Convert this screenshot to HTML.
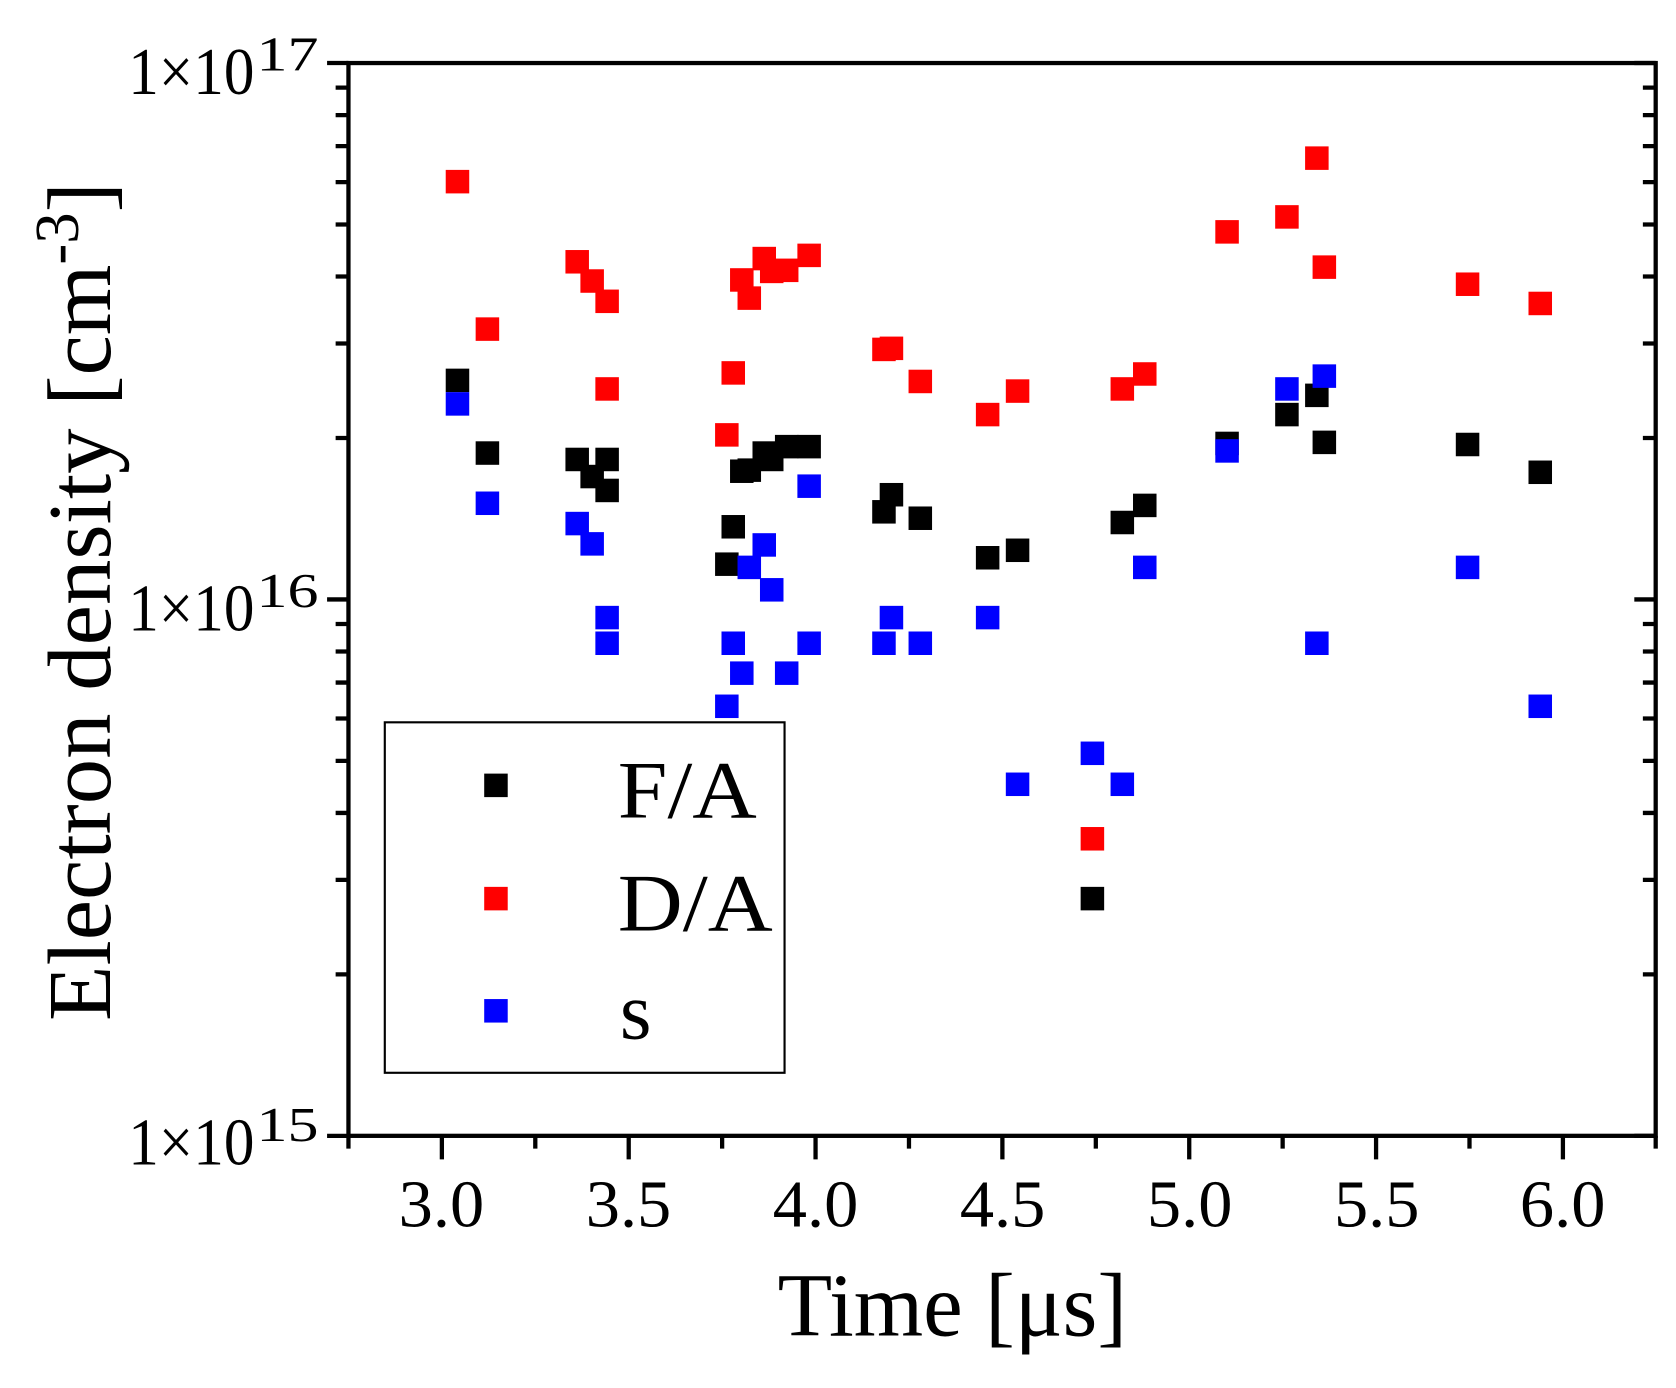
<!DOCTYPE html>
<html><head><meta charset="utf-8"><style>html,body{margin:0;padding:0;background:#fff}svg{display:block}</style></head>
<body>
<svg width="1676" height="1388" viewBox="0 0 1568 1299" preserveAspectRatio="none" xmlns="http://www.w3.org/2000/svg" xmlns:xlink="http://www.w3.org/1999/xlink" font-family="'Liberation Serif', serif">
<defs><rect id="m" x="-11" y="-11" width="22" height="22"/></defs>
<rect width="1568" height="1299" fill="#fff"/>
<path stroke="#000" stroke-width="4" fill="none" d="
M326,1063V1075 M413.4,1063V1085 M500.8,1063V1075 M588.2,1063V1085 M675.6,1063V1075 M763,1063V1085 M850.4,1063V1075 M937.8,1063V1085 M1025.2,1063V1075 M1112.6,1063V1085 M1200,1063V1075 M1287.4,1063V1085 M1374.8,1063V1075 M1462.2,1063V1085 M1549,1063V1075
M326,1063H306 M326,561H306 M326,59H306 M1549,1063H1529 M1549,561H1529 M1549,59H1529
M326,911.9H314 M326,823.5H314 M326,760.8H314 M326,712.1H314 M326,672.4H314 M326,638.8H314 M326,609.7H314 M326,584H314
M326,409.9H314 M326,321.5H314 M326,258.8H314 M326,210.1H314 M326,170.4H314 M326,136.8H314 M326,107.7H314 M326,82H314
M1549,911.9H1537 M1549,823.5H1537 M1549,760.8H1537 M1549,712.1H1537 M1549,672.4H1537 M1549,638.8H1537 M1549,609.7H1537 M1549,584H1537
M1549,409.9H1537 M1549,321.5H1537 M1549,258.8H1537 M1549,210.1H1537 M1549,170.4H1537 M1549,136.8H1537 M1549,107.7H1537 M1549,82H1537"/>
<rect x="326" y="59" width="1223" height="1004" fill="none" stroke="#000" stroke-width="4"/>
<g fill="#f00">
<use xlink:href="#m" x="428" y="170"/><use xlink:href="#m" x="456" y="308"/><use xlink:href="#m" x="540" y="245"/><use xlink:href="#m" x="554" y="263"/><use xlink:href="#m" x="568" y="282"/><use xlink:href="#m" x="568" y="364"/><use xlink:href="#m" x="680" y="407"/><use xlink:href="#m" x="686" y="349"/><use xlink:href="#m" x="694" y="262"/><use xlink:href="#m" x="701" y="279"/><use xlink:href="#m" x="715" y="242"/><use xlink:href="#m" x="722" y="254"/><use xlink:href="#m" x="736" y="253"/><use xlink:href="#m" x="757" y="239"/><use xlink:href="#m" x="827" y="327"/><use xlink:href="#m" x="834" y="326"/><use xlink:href="#m" x="861" y="357"/><use xlink:href="#m" x="924" y="388"/><use xlink:href="#m" x="952" y="366"/><use xlink:href="#m" x="1022" y="785"/><use xlink:href="#m" x="1050" y="364"/><use xlink:href="#m" x="1071" y="350"/><use xlink:href="#m" x="1148" y="217"/><use xlink:href="#m" x="1204" y="203"/><use xlink:href="#m" x="1232" y="148"/><use xlink:href="#m" x="1239" y="250"/><use xlink:href="#m" x="1373" y="266"/><use xlink:href="#m" x="1441" y="284"/>
</g>
<g fill="#000">
<use xlink:href="#m" x="428" y="356"/><use xlink:href="#m" x="456" y="424"/><use xlink:href="#m" x="540" y="430"/><use xlink:href="#m" x="554" y="446"/><use xlink:href="#m" x="568" y="430"/><use xlink:href="#m" x="568" y="459"/><use xlink:href="#m" x="680" y="528"/><use xlink:href="#m" x="686" y="493"/><use xlink:href="#m" x="694" y="441"/><use xlink:href="#m" x="701" y="440"/><use xlink:href="#m" x="715" y="424"/><use xlink:href="#m" x="722" y="430"/><use xlink:href="#m" x="736" y="418"/><use xlink:href="#m" x="757" y="418"/><use xlink:href="#m" x="827" y="479"/><use xlink:href="#m" x="834" y="463"/><use xlink:href="#m" x="861" y="485"/><use xlink:href="#m" x="924" y="522"/><use xlink:href="#m" x="952" y="515"/><use xlink:href="#m" x="1022" y="841"/><use xlink:href="#m" x="1050" y="489"/><use xlink:href="#m" x="1071" y="473"/><use xlink:href="#m" x="1148" y="415"/><use xlink:href="#m" x="1204" y="388"/><use xlink:href="#m" x="1232" y="370"/><use xlink:href="#m" x="1239" y="414"/><use xlink:href="#m" x="1373" y="416"/><use xlink:href="#m" x="1441" y="442"/>
</g>
<g fill="#00f">
<use xlink:href="#m" x="428" y="378"/><use xlink:href="#m" x="456" y="471"/><use xlink:href="#m" x="540" y="490"/><use xlink:href="#m" x="554" y="509"/><use xlink:href="#m" x="568" y="578"/><use xlink:href="#m" x="568" y="602"/><use xlink:href="#m" x="680" y="661"/><use xlink:href="#m" x="686" y="602"/><use xlink:href="#m" x="694" y="630"/><use xlink:href="#m" x="701" y="531"/><use xlink:href="#m" x="715" y="510"/><use xlink:href="#m" x="722" y="552"/><use xlink:href="#m" x="736" y="630"/><use xlink:href="#m" x="757" y="455"/><use xlink:href="#m" x="757" y="602"/><use xlink:href="#m" x="827" y="602"/><use xlink:href="#m" x="834" y="578"/><use xlink:href="#m" x="861" y="602"/><use xlink:href="#m" x="924" y="578"/><use xlink:href="#m" x="952" y="734"/><use xlink:href="#m" x="1022" y="705"/><use xlink:href="#m" x="1050" y="734"/><use xlink:href="#m" x="1071" y="531"/><use xlink:href="#m" x="1148" y="422"/><use xlink:href="#m" x="1204" y="364"/><use xlink:href="#m" x="1232" y="602"/><use xlink:href="#m" x="1239" y="352"/><use xlink:href="#m" x="1373" y="531"/><use xlink:href="#m" x="1441" y="661"/>
</g>
<rect x="360" y="676" width="374" height="328" fill="none" stroke="#000" stroke-width="2"/>
<rect x="453" y="724" width="22" height="22" fill="#000"/>
<rect x="453" y="830" width="22" height="22" fill="#f00"/>
<rect x="453" y="935" width="22" height="22" fill="#00f"/>
<text x="578" y="765" font-size="76" textLength="130" lengthAdjust="spacingAndGlyphs">F/A</text>
<text x="578" y="871" font-size="76" textLength="145" lengthAdjust="spacingAndGlyphs">D/A</text>
<text x="580" y="972" font-size="76">s</text>
<g font-size="62" text-anchor="middle">
<text x="413" y="1148" textLength="80" lengthAdjust="spacingAndGlyphs">3.0</text>
<text x="588" y="1148" textLength="80" lengthAdjust="spacingAndGlyphs">3.5</text>
<text x="763" y="1148" textLength="80" lengthAdjust="spacingAndGlyphs">4.0</text>
<text x="938" y="1148" textLength="80" lengthAdjust="spacingAndGlyphs">4.5</text>
<text x="1113" y="1148" textLength="80" lengthAdjust="spacingAndGlyphs">5.0</text>
<text x="1288" y="1148" textLength="80" lengthAdjust="spacingAndGlyphs">5.5</text>
<text x="1462" y="1148" textLength="80" lengthAdjust="spacingAndGlyphs">6.0</text>
</g>
<g font-size="62">
<text x="120" y="88" textLength="118" lengthAdjust="spacingAndGlyphs">1×10</text><text x="240" y="66" font-size="46" textLength="58" lengthAdjust="spacingAndGlyphs">17</text>
<text x="120" y="590" textLength="118" lengthAdjust="spacingAndGlyphs">1×10</text><text x="240" y="568" font-size="46" textLength="58" lengthAdjust="spacingAndGlyphs">16</text>
<text x="120" y="1090" textLength="118" lengthAdjust="spacingAndGlyphs">1×10</text><text x="240" y="1068" font-size="46" textLength="58" lengthAdjust="spacingAndGlyphs">15</text>
</g>
<text x="891" y="1250" font-size="84" text-anchor="middle" textLength="327" lengthAdjust="spacingAndGlyphs">Time [μs]</text>
<text transform="translate(103,563) rotate(-90)" font-size="84" text-anchor="middle" textLength="785" lengthAdjust="spacingAndGlyphs">Electron density [cm<tspan font-size="58" dy="-30">-3</tspan><tspan dy="30">]</tspan></text>
</svg>
</body></html>
